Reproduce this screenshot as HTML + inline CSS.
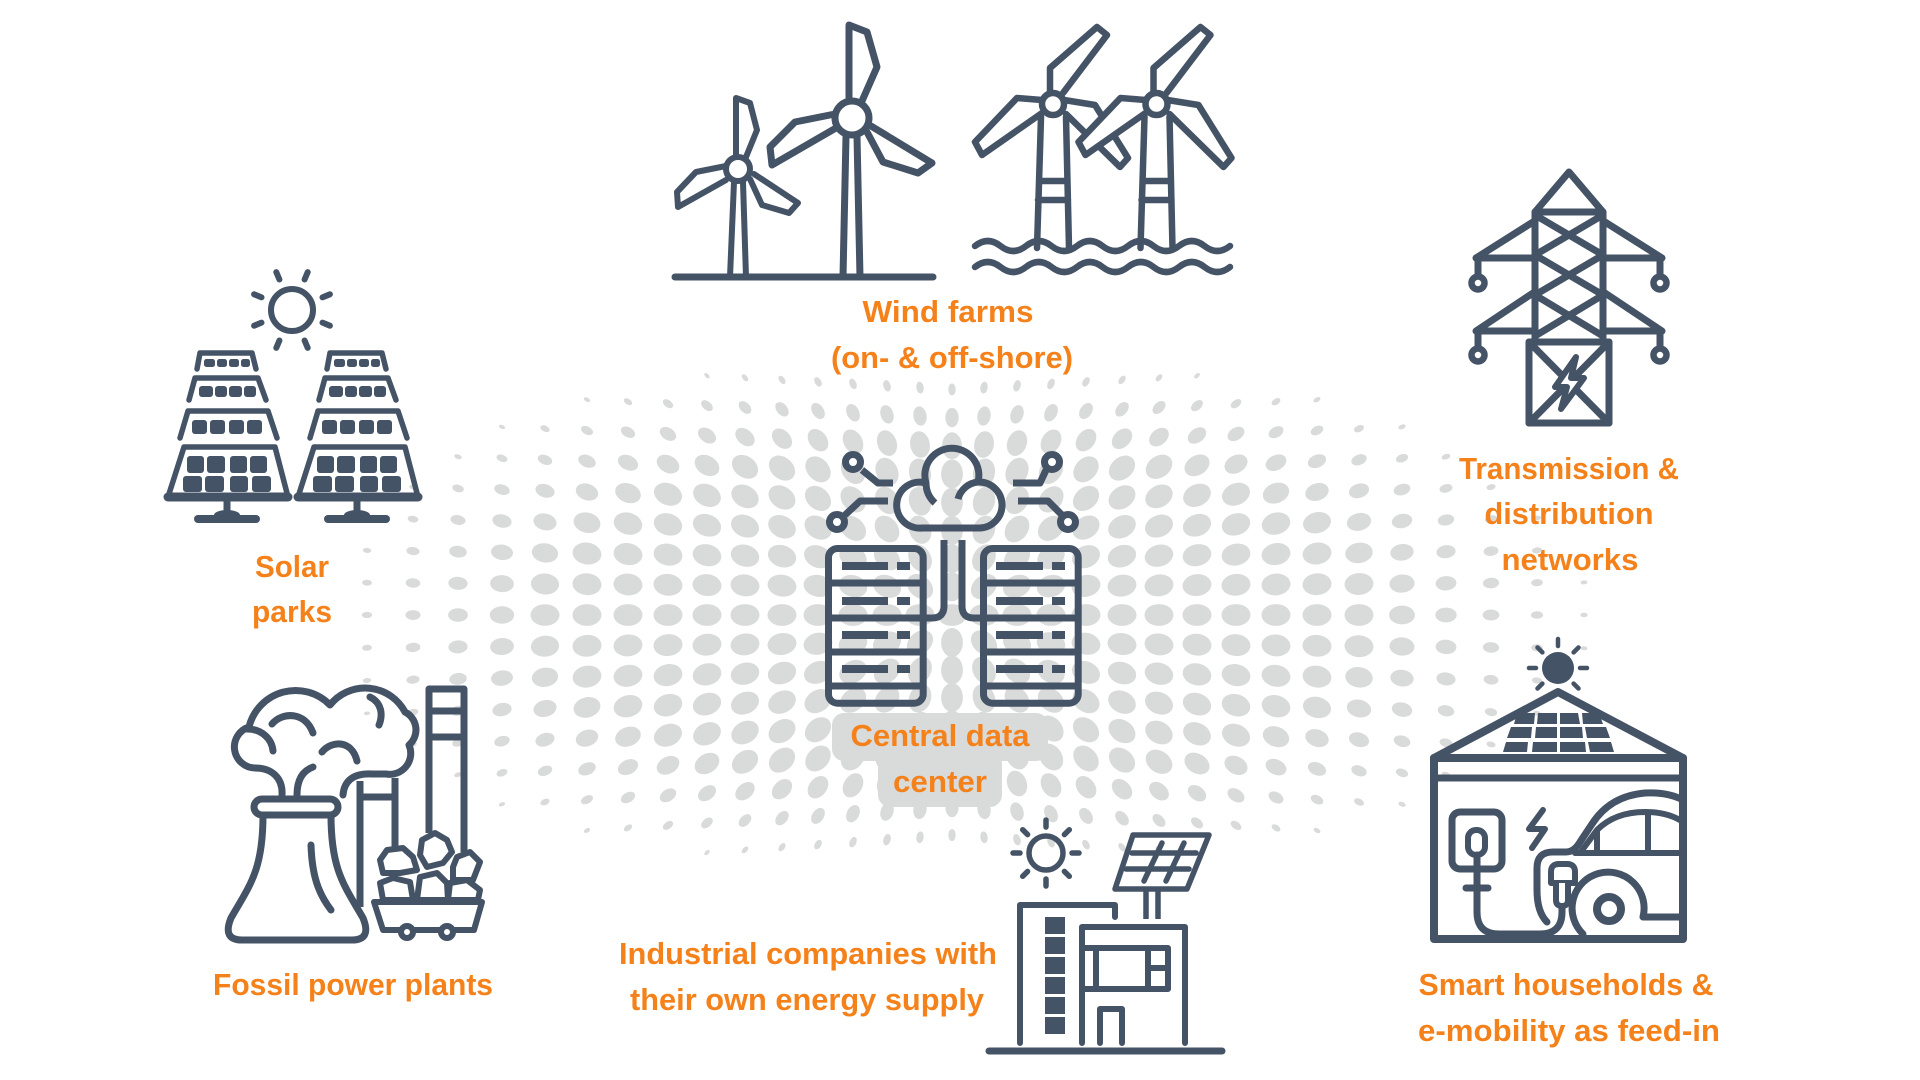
<!DOCTYPE html>
<html>
<head>
<meta charset="utf-8">
<style>
  html,body{margin:0;padding:0;background:#fff;}
  svg{display:block;}
  .t{font-family:"Liberation Sans",Arial,sans-serif;font-weight:bold;font-size:31px;fill:#f5811a;text-anchor:middle;}
</style>
</head>
<body>
<svg id="root" width="1920" height="1080" viewBox="0 0 1920 1080" xmlns="http://www.w3.org/2000/svg">
<rect width="1920" height="1080" fill="#fff"/>
<g id="dots" fill="#d9dada"></g>

<!-- label background for central data center -->
<g fill="#d9dada">
  <rect x="832" y="713" width="216" height="48" rx="12"/>
  <rect x="878" y="752" width="124" height="55" rx="12"/>
</g>

<g fill="none" stroke="#455366" stroke-width="7" stroke-linejoin="round" stroke-linecap="round">

  <!-- ===== Onshore wind ===== -->
  <line x1="675" y1="277" x2="933" y2="277"/>
  <g stroke-width="6">
    <path d="M734,182 L730,277 M743,182 L746,277"/>
    <circle cx="738" cy="169" r="12"/>
    <path d="M736,157 L736,98 L750,103 L757,130 L746,157"/>
    <path d="M726,166 L696,172 L677,192 L678,207 L726,180"/>
    <path d="M750,179 L762,205 L789,213 L798,203 L754,174"/>
  </g>
  <path d="M846,136 L843,277 M857,136 L860,277"/>
  <circle cx="852" cy="118" r="17"/>
  <path d="M849,101 L849,25 L867,32 L877,67 L862,101"/>
  <path d="M835,114 L795,122 L770,147 L772,165 L836,128"/>
  <path d="M867,132 L883,162 L918,173 L932,163 L871,126"/>

  <!-- ===== Offshore wind ===== -->
  <g id="offA" stroke-width="6.5">
    <path d="M1041,117 L1037,248 M1066,117 L1069,248 M1039,181 L1067,181 M1038,200 L1068,200"/>
    <path fill="#fff" d="M1050,93 L1050,68 L1097,27 L1107,35 L1063,93"/>
    <path fill="#fff" d="M1042,100 L1017,98 L975,142 L982,155 L1042,113"/>
    <path fill="#fff" d="M1064,100 L1095,105 L1128,158 L1120,167 L1066,114"/>
    <circle fill="#fff" cx="1053" cy="104" r="11"/>
  </g>
  <use href="#offA" x="103.5" y="0"/>
  <g stroke-width="6.5">
    <path d="M975,246 q12.75,-10 25.5,0 t25.5,0 t25.5,0 t25.5,0 t25.5,0 t25.5,0 t25.5,0 t25.5,0 t25.5,0 t25.5,0"/>
    <path d="M975,267 q12.75,-10 25.5,0 t25.5,0 t25.5,0 t25.5,0 t25.5,0 t25.5,0 t25.5,0 t25.5,0 t25.5,0 t25.5,0"/>
  </g>

  <!-- ===== Transmission tower ===== -->
  <path d="M1535,212 L1569,172 L1603,212 Z"/>
  <path d="M1535,212 L1535,340 M1603,212 L1603,340"/>
  <path d="M1535,215 L1603,255 L1535,295 L1603,336 M1603,215 L1535,255 L1603,295 L1535,336"/>
  <path d="M1533,222 L1476,258 L1535,258 M1478,258 L1478,276"/>
  <path d="M1605,222 L1662,258 L1603,258 M1660,258 L1660,276"/>
  <path d="M1533,293 L1476,331 L1535,331 M1478,331 L1478,348"/>
  <path d="M1605,293 L1662,331 L1603,331 M1660,331 L1660,348"/>
  <g stroke-width="6.5">
    <circle cx="1478" cy="283" r="6.5"/>
    <circle cx="1660" cy="283" r="6.5"/>
    <circle cx="1478" cy="355" r="6.5"/>
    <circle cx="1660" cy="355" r="6.5"/>
  </g>
  <rect x="1529" y="342" width="80" height="81"/>
  <path d="M1529,342 L1609,423 M1609,342 L1529,423"/>
  <path fill="#fff" stroke-width="6" d="M1576,357 L1555,387 L1567,387 L1561,409 L1584,378 L1571,378 Z"/>

  <!-- ===== Solar parks ===== -->
  <g stroke-width="6">
    <circle cx="292" cy="310" r="21"/>
    <path d="M304.6,279.5 L307.7,272.1 M322.5,297.4 L329.9,294.3 M322.5,322.6 L329.9,325.7 M304.6,340.5 L307.7,347.9 M279.4,340.5 L276.3,347.9 M261.5,322.6 L254.1,325.7 M261.5,297.4 L254.1,294.3 M279.4,279.5 L276.3,272.1"/>
  </g>
  <g id="sp">
    <g stroke-width="5.5">
      <path d="M197,369 L200,353 L252,353 L256,369"/>
      <path d="M189,400 L195,378 L258,378 L266,400"/>
      <path d="M180,438 L188,411 L268,411 L277,438"/>
      <path d="M168,497 L184,447 L275,447 L288,497 Z"/>
    </g>
    <line x1="168" y1="497" x2="288" y2="497" stroke-width="9"/>
    <g fill="#455366" stroke="none">
      <rect x="204" y="359" width="11" height="8" rx="2.5"/>
      <rect x="217" y="359" width="10" height="8" rx="2.5"/>
      <rect x="229" y="359" width="10" height="8" rx="2.5"/>
      <rect x="241" y="359" width="9" height="8" rx="2.5"/>
      <rect x="199" y="386" width="14" height="11" rx="3"/>
      <rect x="215" y="386" width="12" height="11" rx="3"/>
      <rect x="229" y="386" width="13" height="11" rx="3"/>
      <rect x="244" y="386" width="12" height="11" rx="3"/>
      <rect x="192" y="420" width="15" height="14" rx="3"/>
      <rect x="210" y="420" width="15" height="14" rx="3"/>
      <rect x="229" y="420" width="15" height="14" rx="3"/>
      <rect x="247" y="420" width="15" height="14" rx="3"/>
      <rect x="187" y="456" width="17" height="17" rx="3"/>
      <rect x="207" y="456" width="18" height="17" rx="3"/>
      <rect x="230" y="456" width="17" height="17" rx="3"/>
      <rect x="250" y="456" width="17" height="17" rx="3"/>
      <rect x="183" y="476" width="19" height="16" rx="3"/>
      <rect x="205" y="476" width="19" height="16" rx="3"/>
      <rect x="230" y="476" width="18" height="16" rx="3"/>
      <rect x="252" y="476" width="19" height="16" rx="3"/>
      <ellipse cx="227" cy="515" rx="13" ry="5"/>
    </g>
    <line x1="227" y1="500" x2="227" y2="514" stroke-width="7" stroke-linecap="butt"/>
    <line x1="198" y1="519" x2="256" y2="519" stroke-width="8"/>
  </g>
  <use href="#sp" x="130" y="0"/>

  <!-- ===== Central data center ===== -->
  <rect x="828.5" y="548.5" width="94.7" height="154.7" rx="9"/>
  <rect x="983.5" y="548.5" width="94.7" height="154.7" rx="9"/>
  <path d="M829,583 L923,583 M829,618 L923,618 M829,652 L923,652 M829,686 L923,686"/>
  <path d="M984,583 L1078,583 M984,618 L1078,618 M984,652 L1078,652 M984,686 L1078,686"/>
  <g fill="#455366" stroke="none">
    <rect x="842" y="562" width="46" height="8"/><rect x="897" y="562" width="13" height="8"/>
    <rect x="842" y="597" width="46" height="8"/><rect x="897" y="597" width="13" height="8"/>
    <rect x="842" y="631" width="46" height="8"/><rect x="897" y="631" width="13" height="8"/>
    <rect x="842" y="665" width="46" height="8"/><rect x="897" y="665" width="13" height="8"/>
    <rect x="996" y="562" width="47" height="8"/><rect x="1052" y="562" width="13" height="8"/>
    <rect x="996" y="597" width="47" height="8"/><rect x="1052" y="597" width="13" height="8"/>
    <rect x="996" y="631" width="47" height="8"/><rect x="1052" y="631" width="13" height="8"/>
    <rect x="996" y="665" width="47" height="8"/><rect x="1052" y="665" width="13" height="8"/>
  </g>
  <path stroke-linecap="butt" d="M944,540 L944,606 Q944,618 932,618 L925,618"/>
  <path stroke-linecap="butt" d="M962,540 L962,606 Q962,618 974,618 L982,618"/>
  <path d="M922,528 A23,23 0 1 1 926,483 A27,27 0 1 1 978,482 A23,23 0 1 1 980,528 Z"/>
  <path stroke-linecap="butt" d="M926,483 A27,27 0 0 0 935,503"/>
  <path stroke-linecap="butt" d="M978,482 A23,23 0 0 0 958,499"/>
  <path stroke-linecap="butt" d="M893,483 L878,483 L862,470"/>
  <path stroke-linecap="butt" d="M888,501 L860,501 L845,515"/>
  <path stroke-linecap="butt" d="M1013,483 L1040,483 L1046,470"/>
  <path stroke-linecap="butt" d="M1018,501 L1048,501 L1062,515"/>
  <circle cx="853" cy="462" r="7.5" fill="#fff"/>
  <circle cx="837" cy="522" r="7.5" fill="#fff"/>
  <circle cx="1052" cy="462" r="7.5" fill="#fff"/>
  <circle cx="1068" cy="522" r="7.5" fill="#fff"/>

  <!-- ===== Fossil power plant ===== -->
  <path d="M282,795 C283,778 272,768 255,768 A21,21 0 0 1 249,727 A48,48 0 0 1 330,705 A45,45 0 0 1 405,712 A20,20 0 0 1 409,745 A21,21 0 0 1 386,774 L372,774 C352,773 344,782 343,795"/>
  <path d="M297,795 C297,781 302,771 313,767"/>
  <path d="M272,724 C282,712 305,711 313,733"/>
  <path d="M322,752 C332,740 352,740 357,761"/>
  <path d="M370,697 C382,703 383,715 379,725"/>
  <path d="M247,729 C262,729 272,739 273,751"/>
  <rect x="254" y="799" width="84" height="16" rx="8" fill="#fff"/>
  <path d="M263,815 C263,870 250,885 231,918 Q222,940 242,940 L352,940 Q372,940 363,918 C344,885 331,870 331,815"/>
  <path d="M311,845 C312,875 318,893 331,910"/>
  <path stroke-linecap="butt" d="M360,907 L360,781 M395,778 L395,848 M360,797 L395,797"/>
  <path stroke-linecap="butt" d="M429,833 L429,689 L464,689 L464,852 M429,711 L464,711 M429,737 L464,737"/>
  <g fill="#fff" stroke-width="6">
    <path d="M374,902 L482,902 L474,930 L383,930 Z"/>
    <path d="M422,840 L435,833 L447,840 L452,852 L443,863 L427,867 L420,855 Z"/>
    <path d="M380,860 L387,850 L403,848 L413,857 L417,870 L400,873 L383,873 Z"/>
    <path d="M453,867 L457,857 L470,852 L480,862 L473,880 L453,880 Z"/>
    <path d="M380,883 L393,878 L410,882 L413,900 L383,900 Z"/>
    <path d="M420,877 L437,873 L447,883 L448,900 L417,900 Z"/>
    <path d="M450,883 L467,880 L480,890 L478,900 L448,900 Z"/>
    <circle cx="407" cy="932" r="6"/>
    <circle cx="447" cy="932" r="6"/>
  </g>

  <!-- ===== Industrial ===== -->
  <g stroke-width="5.5">
    <circle cx="1046" cy="853" r="17"/>
    <path d="M1046,827 L1046,820 M1064.4,834.6 L1069.3,829.7 M1072,853 L1079,853 M1064.4,871.4 L1069.3,876.3 M1046,879 L1046,886 M1027.6,871.4 L1022.7,876.3 M1020,853 L1013,853 M1027.6,834.6 L1022.7,829.7"/>
    <path d="M1133,835 L1209,835 L1187,889 L1115,889 Z"/>
    <path d="M1132,853 L1196,853 M1126,869 L1189,869 M1162,843 L1144,881 M1184,843 L1166,881"/>
    <path stroke-linecap="butt" d="M1146,891 L1146,919 M1158,891 L1158,919"/>
  </g>
  <path stroke-width="6" d="M1020,1043 L1020,905 L1115,905 L1115,917"/>
  <g fill="#455366" stroke="none">
    <rect x="1045" y="917" width="20" height="17"/>
    <rect x="1045" y="937" width="20" height="17"/>
    <rect x="1045" y="957" width="20" height="17"/>
    <rect x="1045" y="977" width="20" height="17"/>
    <rect x="1045" y="997" width="20" height="17"/>
    <rect x="1045" y="1017" width="20" height="17"/>
  </g>
  <g stroke-width="6">
    <path d="M1082,1043 L1082,927 L1185,927 L1185,1043"/>
    <path d="M1082,948 L1168,948 L1168,989 L1082,989 M1096,948 L1096,989 M1148,948 L1148,989 M1148,968 L1168,968"/>
    <path d="M1100,1043 L1100,1009 L1122,1009 L1122,1043"/>
  </g>
  <line x1="989" y1="1051" x2="1222" y2="1051"/>

  <!-- ===== Smart household ===== -->
  <circle cx="1558" cy="668" r="16" fill="#455366" stroke="none"/>
  <path stroke-width="4.5" d="M1558,646 L1558,639 M1573.6,652.4 L1578.5,647.5 M1580,668 L1587,668 M1542.4,652.4 L1537.5,647.5 M1536,668 L1529,668 M1573.6,683.6 L1578.5,688.5 M1542.4,683.6 L1537.5,688.5"/>
  <path stroke-width="8" d="M1434,758 L1558,692 L1683,758 Z"/>
  <rect x="1434" y="758" width="249" height="181" stroke-width="8"/>
  <line x1="1434" y1="778" x2="1683" y2="778"/>
  <g fill="#455366" stroke="none">
    <path d="M1517,713 L1535,713 L1534,724 L1514,724 Z"/>
    <path d="M1538,713 L1557,713 L1557,724 L1537,724 Z"/>
    <path d="M1560,713 L1578,713 L1580,724 L1560,724 Z"/>
    <path d="M1582,713 L1599,713 L1603,724 L1583,724 Z"/>
    <path d="M1511,727 L1532,727 L1531,738 L1507,738 Z"/>
    <path d="M1536,727 L1557,727 L1557,738 L1535,738 Z"/>
    <path d="M1560,727 L1582,727 L1583,738 L1560,738 Z"/>
    <path d="M1585,727 L1606,727 L1610,738 L1587,738 Z"/>
    <path d="M1506,742 L1528,742 L1527,752 L1503,752 Z"/>
    <path d="M1533,742 L1557,742 L1557,752 L1532,752 Z"/>
    <path d="M1560,742 L1585,742 L1586,752 L1560,752 Z"/>
    <path d="M1588,742 L1611,742 L1614,752 L1590,752 Z"/>
  </g>
  <rect x="1452" y="812" width="50" height="57" rx="8"/>
  <rect x="1468" y="830" width="17" height="25" rx="8" stroke-width="6"/>
  <path d="M1477,855 L1477,912 Q1477,934 1499,934 L1540,934 Q1562,934 1562,912 L1562,906"/>
  <path d="M1466,888 L1488,888"/>
  <path stroke-width="6" d="M1543,810 L1529,829 L1545,829 L1532,848"/>
  <path d="M1547,922 Q1537,912 1537,890 L1537,868 Q1537,852 1553,852 L1566,852 Q1574,852 1580,842 L1592,824 Q1610,796 1645,793 Q1668,792 1683,800"/>
  <path stroke-width="6" d="M1580,853 L1597,830 Q1615,812 1645,812 Q1668,812 1683,822 M1575,853 L1683,853 M1648,813 L1648,853 M1597,830 L1597,853"/>
  <path fill="#fff" stroke-width="6" d="M1551,883 L1551,872 Q1551,864 1559,864 L1567,864 Q1575,864 1575,872 L1575,883 Z"/>
  <path fill="#fff" stroke-width="6" d="M1556,883 L1556,900 Q1556,906 1562,906 Q1568,906 1568,900 L1568,883"/>
  <path d="M1583,934 A36,36 0 1 1 1643,917 L1683,917"/>
  <circle cx="1609" cy="909" r="12" stroke-width="8" fill="#fff"/>
</g>

<!-- ===== Labels ===== -->
<text class="t" x="948" y="322" textLength="171" lengthAdjust="spacingAndGlyphs">Wind farms</text>
<text class="t" x="952" y="368" textLength="242" lengthAdjust="spacingAndGlyphs">(on- &amp; off-shore)</text>
<text class="t" x="292" y="577" textLength="74" lengthAdjust="spacingAndGlyphs">Solar</text>
<text class="t" x="292" y="622" textLength="80" lengthAdjust="spacingAndGlyphs">parks</text>
<text class="t" x="1569" y="479" textLength="220" lengthAdjust="spacingAndGlyphs">Transmission &amp;</text>
<text class="t" x="1569" y="524" textLength="169" lengthAdjust="spacingAndGlyphs">distribution</text>
<text class="t" x="1570" y="570" textLength="137" lengthAdjust="spacingAndGlyphs">networks</text>
<text class="t" x="940" y="746" textLength="179" lengthAdjust="spacingAndGlyphs">Central data</text>
<text class="t" x="940" y="792" textLength="94" lengthAdjust="spacingAndGlyphs">center</text>
<text class="t" x="353" y="995" textLength="280" lengthAdjust="spacingAndGlyphs">Fossil power plants</text>
<text class="t" x="808" y="964" textLength="378" lengthAdjust="spacingAndGlyphs">Industrial companies with</text>
<text class="t" x="807" y="1010" textLength="354" lengthAdjust="spacingAndGlyphs">their own energy supply</text>
<text class="t" x="1566" y="995" textLength="295" lengthAdjust="spacingAndGlyphs">Smart households &amp;</text>
<text class="t" x="1569" y="1041" textLength="302" lengthAdjust="spacingAndGlyphs">e-mobility as feed-in</text>
</svg>

<script>
(function(){
  var ns = "http://www.w3.org/2000/svg";
  var g = document.getElementById('dots');
  var cx = 952, cy = 615;
  var Jy = 8.8;
  for (var i = -17; i <= 17; i++) {
    var ai = Math.abs(i);
    var dx = (i < 0 ? -1 : 1) * (31.5 * ai + 0.5 * ai * ai);
    var d = Math.abs(dx);
    var Dx = (i < 0) ? 625 : 645;
    for (var j = -10; j <= 10; j++) {
      var r = Math.sqrt((d / Dx) * (d / Dx) + (j / Jy) * (j / Jy));
      if (r >= 1) continue;
      var s = (j < 0 ? 28.2 + 0.007 * d : 27.5 + 0.009 * d);
      var x = cx + dx, y = cy + j * s;
      var f = 1 - r;
      var t = Math.min(1, f / 0.35);
      var a = 3 + 11.5 * t;
      var b = a * (0.58 + 0.17 * t);
      var ang = (x === cx && y === cy) ? 0 : Math.atan2(y - cy, x - cx) * 180 / Math.PI;
      var e = document.createElementNS(ns, 'ellipse');
      e.setAttribute('cx', x.toFixed(1));
      e.setAttribute('cy', y.toFixed(1));
      e.setAttribute('rx', a.toFixed(1));
      e.setAttribute('ry', b.toFixed(1));
      e.setAttribute('transform', 'rotate(' + ang.toFixed(1) + ' ' + x.toFixed(1) + ' ' + y.toFixed(1) + ')');
      g.appendChild(e);
    }
  }
})();
</script>
</body>
</html>
